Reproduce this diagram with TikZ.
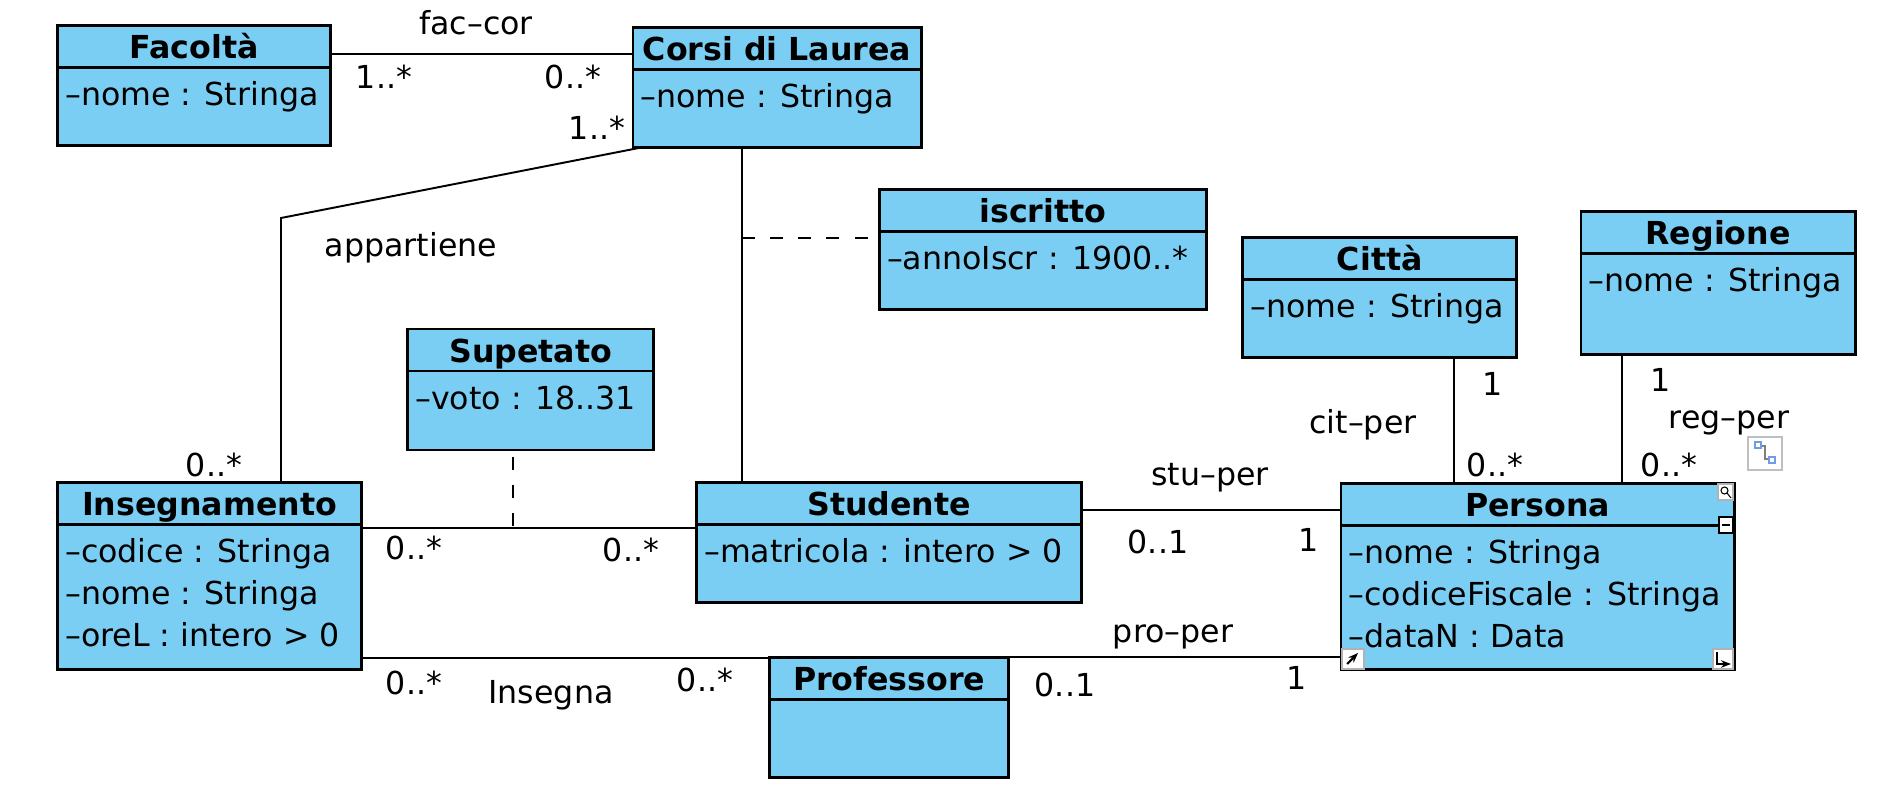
\documentclass[tikz,border=0pt]{standalone}
\usepackage{fontspec}
\setmainfont{DejaVu Sans}
\usetikzlibrary{arrows.meta,calc}
\definecolor{umlblue}{HTML}{7BCEF3}
\definecolor{iconblue}{HTML}{6F9BE8}

\begin{document}
\begin{tikzpicture}[x=0.01cm,y=-0.01cm,font=\fontsize{9}{11}\selectfont,
      cls/.style={draw,line width=0.8pt,fill=umlblue,anchor=north west,
                  inner sep=0pt,outer sep=0pt},
      hd/.style={font=\fontsize{9}{11}\selectfont\bfseries,anchor=base,inner sep=0pt},
      att/.style={anchor=base west,inner sep=0pt},
      lab/.style={inner sep=0pt},
      asc/.style={line width=0.55pt},
      dsh/.style={line width=0.55pt,dash pattern=on 3.7pt off 4.3pt}]
    \useasboundingbox (0,0) rectangle (1890,794);
    % classes
    \node[cls,minimum width=2.73cm,minimum height=1.20cm] (fac) at (57.5,25.5) {};
    \node[cls,minimum width=2.88cm,minimum height=1.20cm] (cor) at (633,27.3) {};
    \node[cls,minimum width=3.27cm,minimum height=1.20cm] (isc) at (879.3,189.6) {};
    \node[cls,minimum width=2.74cm,minimum height=1.20cm] (cit) at (1242.7,237.3) {};
    \node[cls,minimum width=2.74cm,minimum height=1.43cm] (reg) at (1581,211.7) {};
    \node[cls,minimum width=2.46cm,minimum height=1.21cm] (sup) at (407.6,329) {};
    \node[cls,minimum width=3.04cm,minimum height=1.87cm] (ins) at (57.5,482.7) {};
    \node[cls,minimum width=3.85cm,minimum height=1.20cm] (stu) at (696.6,482.7) {};
    \node[cls,minimum width=3.93cm,minimum height=1.86cm] (per) at (1341,483.3) {};
    \node[cls,minimum width=2.39cm,minimum height=1.20cm] (pro) at (769.6,657.3) {};
    \foreach \c in {fac,cor,isc,cit,reg,sup,ins,stu,per,pro}
      \draw[line width=0.8pt] ([yshift=-4.2mm]\c.north west) -- ([yshift=-4.2mm]\c.north east);
    \foreach \c/\t in {fac/Facoltà,cor/Corsi di Laurea,isc/iscritto,cit/Città,
        reg/Regione,sup/Supetato,ins/Insegnamento,stu/Studente,per/Persona,pro/Professore}
      \node[hd] (\c-t) at ([yshift=-3.3mm]\c.north) {\t};
    \foreach \c/\t in {fac/{–nome : Stringa},cor/{–nome : Stringa},isc/{–annoIscr : 1900..*},
        cit/{–nome : Stringa},reg/{–nome : Stringa},sup/{–voto : 18..31},
        stu/{–matricola : intero > 0}}
      \node[att] (\c-a) at ([xshift=0.7mm,yshift=-8mm]\c.north west) {\t};
    \foreach \t [count=\i] in {–codice : Stringa,–nome : Stringa,–oreL : intero > 0}
      \node[att] (ins-a\i) at ([xshift=0.7mm,yshift=-3.8mm-\i*4.2mm]ins.north west) {\t};
    \foreach \t [count=\i] in {–nome : Stringa,–codiceFiscale : Stringa,–dataN : Data}
      \node[att] (per-a\i) at ([xshift=0.7mm,yshift=-3.8mm-\i*4.2mm]per.north west) {\t};
    % associations
    \draw[asc] ([yshift=-2.85mm]fac.north east) coordinate (fc) -- (fc -| cor.west);
    \coordinate (bend) at (281,218);
    \draw[asc] ([xshift=0.9mm]cor.south west) -- (bend) -- (bend |- ins.north);
    \draw[asc] ([xshift=4.54mm]stu.north west) coordinate (cs) -- (cs |- cor.south);
    \coordinate (ic) at ([yshift=-4.84mm]isc.north west);
    \draw[dsh] (ic -| cs) -- (ic);
    \draw[asc] ([yshift=-4.56mm]stu.north west) coordinate (is) -- (is -| ins.east);
    \draw[dsh] ([xshift=-1.8mm,yshift=-0.65mm]sup.south) coordinate (sd) -- (sd |- is);
    \draw[asc] ([yshift=-2.73mm]stu.north east) coordinate (sp) -- (sp -| per.west);
    \draw[asc] ([xshift=7.45mm]cit.south) coordinate (cp) -- (cp |- per.north);
    \draw[asc] ([xshift=4.14mm]reg.south west) coordinate (rp) -- (rp |- per.north);
    \draw[asc] ([yshift=-0.1mm]pro.north west) coordinate (ip) -- (ip -| ins.east);
    \draw[asc] (pro.north east) -- (pro.north east -| per.west);
    % labels
    \node[lab] (l-fc) at (476,23) {fac–cor};
    \node[lab] (m-fc1) at (384,77) {1..*};
    \node[lab] (m-fc2) at (573,77) {0..*};
    \node[lab] (m-ap1) at (597,128) {1..*};
    \node[lab] (l-ap) at (411,248) {appartiene};
    \node[lab] (m-ap2) at (214,465) {0..*};
    \node[lab] (m-su1) at (414,548) {0..*};
    \node[lab] (m-su2) at (631,550) {0..*};
    \node[lab] (m-in1) at (414,683) {0..*};
    \node[lab] (l-in) at (551,695) {Insegna};
    \node[lab] (m-in2) at (705,680) {0..*};
    \node[lab] (l-sp) at (1210,478) {stu–per};
    \node[lab] (m-sp1) at (1158,542) {0..1};
    \node[lab] (m-sp2) at (1309,540) {1};
    \node[lab] (l-pp) at (1173,637) {pro–per};
    \node[lab] (m-pp1) at (1065,685) {0..1};
    \node[lab] (m-pp2) at (1297,678) {1};
    \node[lab] (m-cp1) at (1493,384) {1};
    \node[lab] (l-cp) at (1363,425) {cit–per};
    \node[lab] (m-cp2) at (1495,465) {0..*};
    \node[lab] (m-rp1) at (1661,380) {1};
    \node[lab] (l-rp) at (1729,423) {reg–per};
    \node[lab] (m-rp2) at (1669,465) {0..*};
    % editor handles
    \draw[gray!50,fill=white,line width=0.3pt] (1748,437) rectangle (1782,470);
    \draw[gray,line width=0.4pt] (1759,446) -- (1765,446) -- (1765,459) -- (1771,459);
    \draw[iconblue,fill=white,line width=0.4pt] (1755,442) rectangle (1761,448)
      (1769,457) rectangle (1775,463);
    \draw[gray!60,fill=white,line width=0.3pt] (1718,484) rectangle (1733,500);
    \draw[line width=0.3pt] (1724.5,490.5) circle[radius=0.35mm] (1727,493) -- (1731,498);
    \draw[fill=white,line width=0.5pt] (1719,517) rectangle (1733,533);
    \draw[line width=0.6pt] (1722,525) -- (1730,525);
    \draw[gray!60,fill=white,line width=0.3pt] (1342,649) rectangle (1364,669);
    \draw[line width=0.6pt,-{Stealth[length=1mm]}] (1347,664) -- (1358,653);
    \draw[gray!60,fill=white,line width=0.3pt] (1713,649) rectangle (1733,669);
    \draw[line width=0.6pt,-{Stealth[length=1mm]}] (1717,652) -- (1717,664) -- (1731,664);
\end{tikzpicture}
\end{document}
